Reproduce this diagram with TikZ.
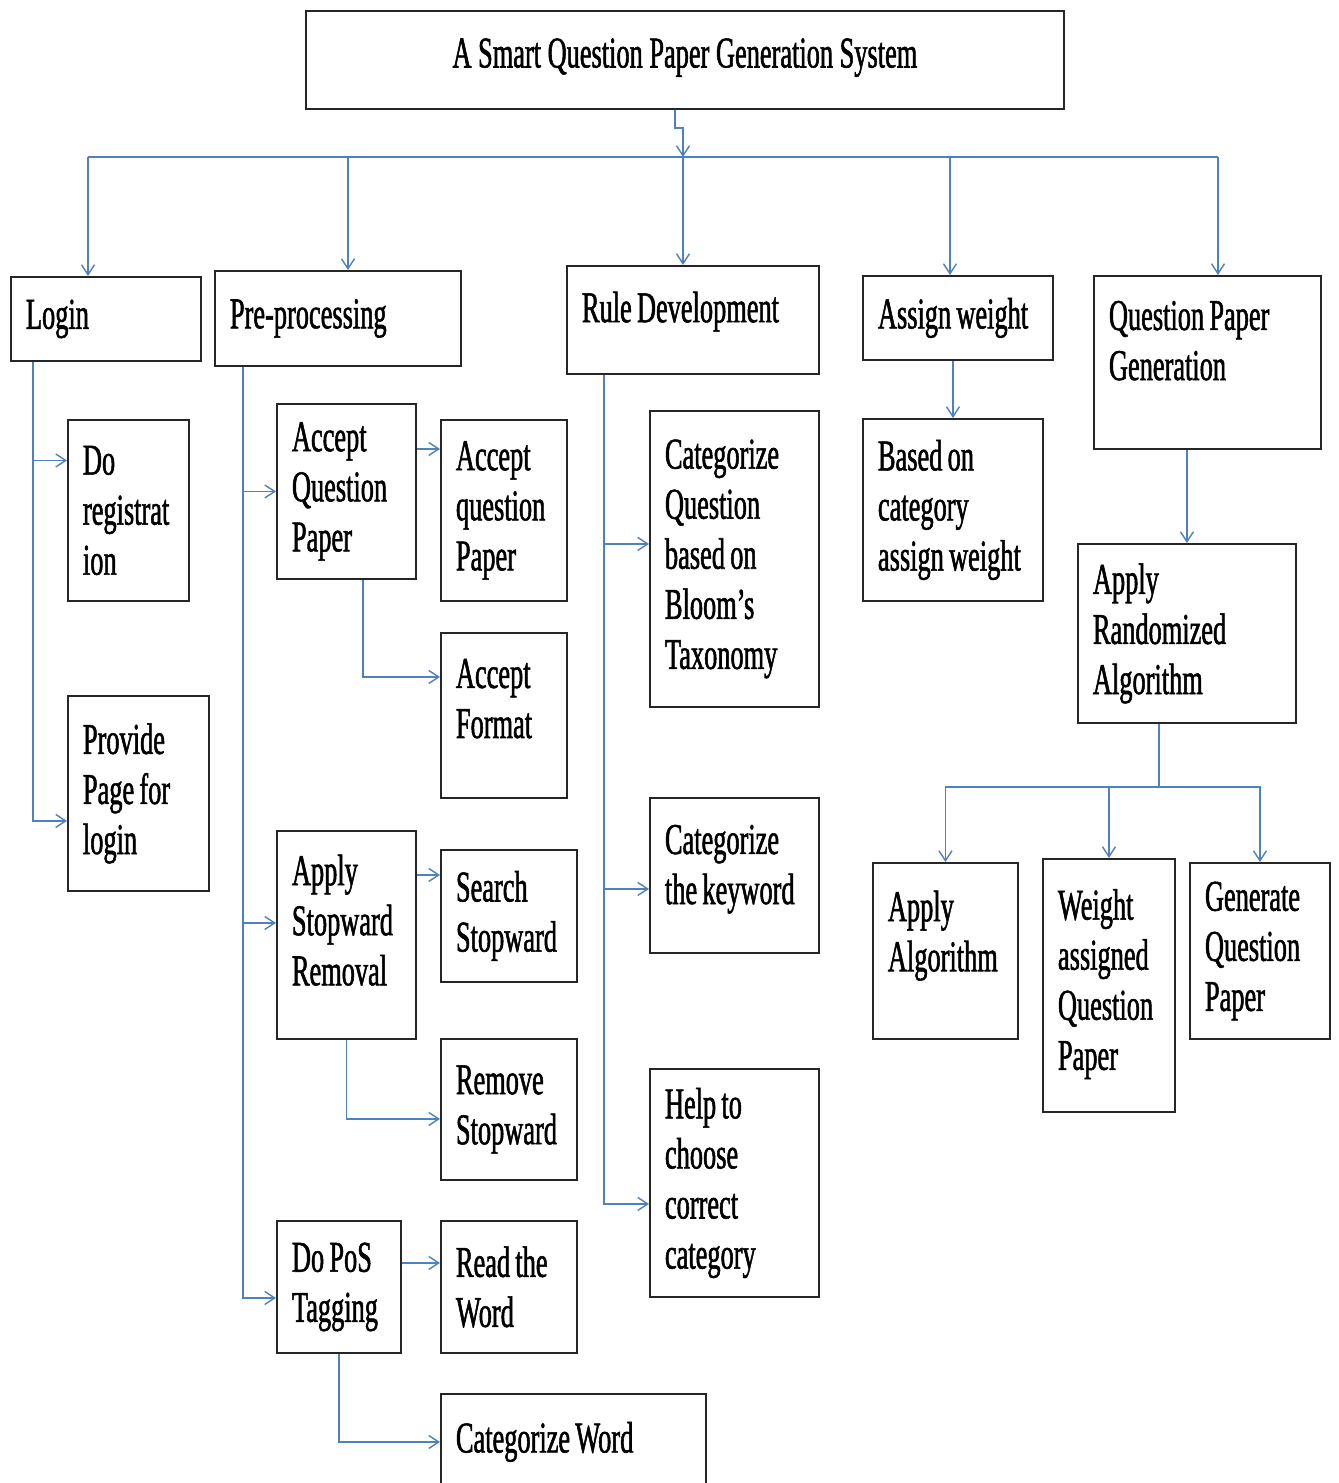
\documentclass[tikz,border=0pt]{standalone}
\usepackage{fontspec}
\setmainfont{Liberation Serif}[FakeStretch=0.6,FakeBold=1.2]
\usepackage{tikz}
\usetikzlibrary{positioning,arrows.meta,calc}
\definecolor{linkblue}{RGB}{79,129,189}
\newcommand{\txtup}[1]{\rule[-#1]{0pt}{0pt}}

\begin{document}
\begin{tikzpicture}[x=0.02cm,y=-0.02cm,font={\fontsize{25pt}{28.5pt}\selectfont\hyphenpenalty=10000},>={Straight Barb[length=2mm,width=2.6mm]},
   box/.style={draw=black!85,line width=1.1pt,align=left,anchor=north west,inner xsep=0.3cm,inner ysep=0.1cm,
     execute at begin node={\spaceskip=3pt plus 0.5pt\relax}},
   conn/.style={draw=linkblue,line width=0.8pt}]
  \path[use as bounding box,fill=white] (0,0) rectangle (1338,1483);
  % top level
  \node[box,align=center,text width=14.56cm,minimum height=1.96cm] (title) at (305,10) {A Smart Question Paper Generation System\txtup{0.28cm}};
  \node[box,text width=3.2cm,minimum height=1.68cm] (login) at (10,276) {Login};
  \node[box,text width=4.32cm,minimum height=1.9cm] (pre) at (214,270) {Pre-processing};
  \node[box,text width=4.44cm,minimum height=2.16cm] (rule) at (566,265) {Rule Development\txtup{0.52cm}};
  \node[box,text width=3.2cm,minimum height=1.68cm] (assign) at (862,275) {Assign weight};
  \node[box,text width=3.94cm,minimum height=3.46cm] (qpg) at (1093,275) {Question Paper\\Generation\txtup{0.88cm}};
  % login column
  \node[box,text width=1.82cm,minimum height=3.62cm] (reg) at (67,419) {Do\\registrat\\ion};
  \node[box,text width=2.22cm,minimum height=3.9cm] (prov) at (67,695) {Provide\\Page for\\login};
  % pre-processing column
  \node[box,text width=2.18cm,minimum height=3.5cm] (aqp) at (276,403) {Accept\\Question\\Paper};
  \node[box,text width=1.92cm,minimum height=3.62cm] (aqpq) at (440,419) {Accept\\question\\Paper};
  \node[box,text width=1.92cm,minimum height=3.3cm] (fmt) at (440,632) {Accept\\Format\txtup{0.68cm}};
  \node[box,text width=2.18cm,minimum height=4.16cm] (asr) at (276,830) {Apply\\Stopward\\Removal\txtup{0.6cm}};
  \node[box,text width=2.12cm,minimum height=2.64cm] (srch) at (440,849) {Search\\Stopward};
  \node[box,text width=2.12cm,minimum height=2.82cm] (rmv) at (440,1038) {Remove\\Stopward};
  \node[box,text width=1.88cm,minimum height=2.64cm] (pos) at (276,1220) {Do PoS\\Tagging};
  \node[box,text width=2.12cm,minimum height=2.64cm] (readw) at (440,1220) {Read the\\Word};
  \node[box,text width=4.7cm,minimum height=1.92cm] (catw) at (440,1393) {Categorize Word};
  % rule column
  \node[box,text width=2.78cm,minimum height=5.92cm] (bloom) at (649,410) {Categorize\\Question\\based on\\Bloom’s\\Taxonomy};
  \node[box,text width=2.78cm,minimum height=3.1cm] (keyw) at (649,797) {Categorize\\the keyword\txtup{0.44cm}};
  \node[box,text width=2.78cm,minimum height=4.56cm] (helpc) at (649,1068) {Help to\\choose\\correct\\category};
  % right side
  \node[box,text width=3.0cm,minimum height=3.64cm] (based) at (862,418) {Based on\\category\\assign weight};
  \node[box,text width=3.76cm,minimum height=3.58cm] (ara) at (1077,543) {Apply\\Randomized\\Algorithm};
  \node[box,text width=2.3cm,minimum height=3.52cm] (algo) at (872,862) {Apply\\Algorithm\txtup{0.8cm}};
  \node[box,text width=2.04cm,minimum height=5.06cm] (wqp) at (1042,858) {Weight\\assigned\\Question\\Paper\txtup{0.24cm}};
  \node[box,text width=2.2cm,minimum height=3.52cm] (gqp) at (1189,862) {Generate\\Question\\Paper};

  % main bus
  \coordinate (bus) at (683,157);
  \coordinate (busl) at (88,157);
  \coordinate (busr) at (1218,157);
  \draw[conn,->] ([xshift=-0.2cm]title.south) -- ++(0,18) -| (bus);
  \draw[conn] (busl) -- (busr);
  \draw[conn,->] (busl) -- (busl |- login.north);
  \coordinate (pretop) at ([xshift=0.2cm]pre.north);
  \draw[conn,->] (bus -| pretop) -- (pretop);
  \draw[conn,->] (bus) -- (bus |- rule.north);
  \coordinate (assigntop) at ([xshift=-0.16cm]assign.north);
  \draw[conn,->] (bus -| assigntop) -- (assigntop);
  \draw[conn,->] (busr) -- (busr |- qpg.north);

  % login branch
  \coordinate (logtr) at ([xshift=0.46cm]login.south west);
  \draw[conn,->] (logtr) |- ([yshift=1cm]reg.west);
  \draw[conn,->] (logtr) |- ([yshift=-0.55cm]prov.west);

  % pre-processing branch
  \coordinate (pretr) at ([xshift=0.58cm]pre.south west);
  \draw[conn,->] (pretr) |- (aqp.west);
  \draw[conn,->] (pretr) |- ([yshift=0.24cm]asr.west);
  \draw[conn,->] (pretr) |- ([yshift=-0.22cm]pos.west);
  \coordinate (aqpqin) at ([yshift=1.23cm]aqpq.west);
  \draw[conn,->] (aqpqin -| aqp.east) -- (aqpqin);
  \draw[conn,->] ([xshift=0.33cm]aqp.south) |- ([yshift=0.77cm]fmt.west);
  \coordinate (srchin) at ([yshift=0.82cm]srch.west);
  \draw[conn,->] (srchin -| asr.east) -- (srchin);
  \draw[conn,->] (asr.south) |- ([yshift=-0.19cm]rmv.west);
  \coordinate (readin) at ([yshift=0.48cm]readw.west);
  \draw[conn,->] (readin -| pos.east) -- (readin);
  \draw[conn,->] (pos.south) |- (catw.west);

  % rule branch
  \coordinate (ruletr) at ([xshift=0.76cm]rule.south west);
  \draw[conn,->] (ruletr) |- ([yshift=0.3cm]bloom.west);
  \draw[conn,->] (ruletr) |- ([yshift=-0.27cm]keyw.west);
  \draw[conn,->] (ruletr) |- ([yshift=-0.42cm]helpc.west);

  % weight and generation
  \draw[conn,->] (based.north |- assign.south) -- (based.north);
  \draw[conn,->] (ara.north |- qpg.south) -- (ara.north);
  \coordinate (rbus) at ([xshift=-0.56cm,yshift=-1.26cm]ara.south);
  \draw[conn] ([xshift=-0.56cm]ara.south) -- (rbus);
  \draw[conn,->] (rbus) -| (algo.north);
  \draw[conn,->] (rbus) -| (wqp.north);
  \draw[conn,->] (rbus) -| (gqp.north);
\end{tikzpicture}
\end{document}
